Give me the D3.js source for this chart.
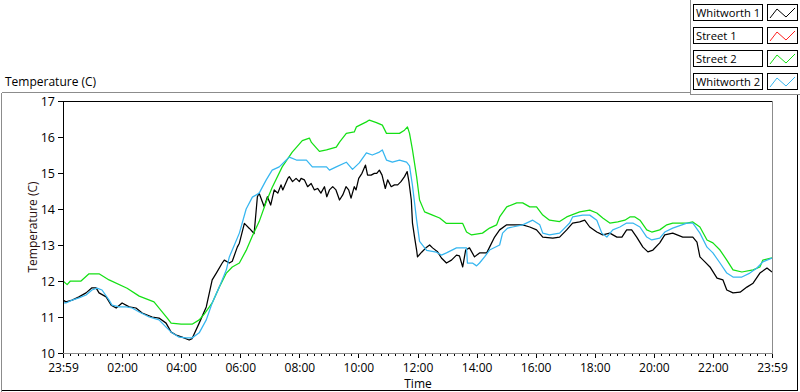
<!DOCTYPE html>
<html>
<head>
<meta charset="utf-8">
<script src="https://cdn.jsdelivr.net/npm/d3@7"></script>
<style>
  body { margin: 0; background: #fff; }
  svg { display: block; font-family: "Open Sans", sans-serif; }
</style>
</head>
<body>
<div id="chart"></div>
<script>
// series names and colours (legend order)
const seriesNames = ["Whitworth 1", "Street 1", "Street 2", "Whitworth 2"];
const seriesColors = ["#000000", "#ff2020", "#14e014", "#36b6f0"];

// x ticks: hours from the 23:59 start
const timeTicks = [0, 2, 4, 6, 8, 10, 12, 14, 16, 18, 20, 22, 24];
const timeLabels = ["23:59", "02:00", "04:00", "06:00", "08:00", "10:00", "12:00",
                    "14:00", "16:00", "18:00", "20:00", "22:00", "23:59"];
const tempTicks = [10, 11, 12, 13, 14, 15, 16, 17];

// Whitworth 1 (black)
const w1Time = [0, 0.10, 0.31, 0.54, 0.78, 0.98, 1.12, 1.22, 1.46, 1.63, 1.80, 2.00, 2.24, 2.47, 2.68,
  3.02, 3.25, 3.49, 3.66, 3.83, 4.03, 4.27, 4.37, 4.61, 4.85, 5.05, 5.19, 5.39, 5.46, 5.63, 5.73, 5.90,
  5.97, 6.14, 6.31, 6.47, 6.58, 6.64, 6.81, 6.92, 7.03, 7.15, 7.27, 7.38, 7.44, 7.61, 7.66, 7.77, 7.89,
  8.00, 8.06, 8.17, 8.28, 8.40, 8.51, 8.62, 8.73, 8.85, 8.93, 9.02, 9.13, 9.24, 9.36, 9.47, 9.58, 9.67,
  9.75, 9.86, 9.92, 10.01, 10.12, 10.24, 10.31, 10.43, 10.54, 10.62, 10.71, 10.80, 10.91, 10.99, 11.11,
  11.22, 11.33, 11.44, 11.56, 11.65, 11.71, 11.79, 11.83, 11.90, 11.97, 12.00, 12.14, 12.31, 12.41,
  12.51, 12.68, 12.81, 12.98, 13.15, 13.32, 13.42, 13.53, 13.63, 13.76, 13.93, 14.10, 14.34, 14.44,
  14.61, 14.78, 15.02, 15.22, 15.56, 15.80, 16.03, 16.24, 16.58, 16.81, 17.05, 17.25, 17.49, 17.66,
  17.83, 18.07, 18.27, 18.51, 18.75, 18.92, 19.08, 19.25, 19.42, 19.63, 19.80, 19.97, 20.20, 20.37,
  20.64, 20.98, 21.32, 21.46, 21.56, 21.73, 21.90, 22.14, 22.34, 22.47, 22.68, 22.92, 23.15, 23.36,
  23.59, 23.83, 24.00];
const w1Temp = [11.47, 11.42, 11.47, 11.56, 11.67, 11.81, 11.81, 11.67, 11.56, 11.33, 11.25, 11.39, 11.28, 11.25, 11.11,
  11.00, 10.97, 10.83, 10.58, 10.50, 10.44, 10.36, 10.40, 10.83, 11.28, 12.03, 12.22, 12.50, 12.58, 12.50, 12.55, 12.94,
  13.05, 13.60, 13.46, 13.32, 14.34, 14.44, 14.06, 14.34, 14.11, 14.53, 14.44, 14.67, 14.53, 14.85, 14.90, 14.76, 14.85,
  14.76, 14.85, 14.81, 14.62, 14.71, 14.53, 14.57, 14.44, 14.62, 14.34, 14.53, 14.62, 14.53, 14.25, 14.39, 14.62, 14.53,
  14.30, 14.62, 14.53, 14.85, 14.99, 15.22, 14.94, 14.94, 14.99, 14.99, 15.08, 14.94, 14.57, 14.81, 14.62,
  14.67, 14.67, 14.76, 14.90, 15.04, 14.76, 14.25, 13.61, 13.22, 12.86, 12.67, 12.80, 12.94, 13.00,
  12.92, 12.81, 12.64, 12.50, 12.58, 12.72, 12.70, 12.39, 12.86, 12.92, 12.67, 12.78, 12.78, 12.94,
  13.22, 13.42, 13.56, 13.56, 13.56, 13.50, 13.42, 13.22, 13.19, 13.22, 13.42, 13.61, 13.64, 13.69,
  13.50, 13.36, 13.28, 13.33, 13.22, 13.22, 13.42, 13.42, 13.22, 12.94, 12.81, 12.86, 13.06, 13.28,
  13.33, 13.22, 13.22, 13.08, 12.67, 12.53, 12.39, 12.08, 12.03, 11.75, 11.67, 11.69, 11.83, 11.94,
  12.22, 12.36, 12.25];

// Street 1 (red) - no visible data
const s1Time = [];
const s1Temp = [];

// Street 2 (green)
const s2Time = [0, 0.14, 0.25, 0.61, 0.88, 1.22, 1.56, 2.17, 2.58, 3.08, 3.53, 3.66, 4.00, 4.37, 4.61, 4.78,
  5.05, 5.29, 5.53, 5.73, 5.97, 6.20, 6.41, 6.64, 6.88, 7.08, 7.42, 7.76, 8.10, 8.34, 8.41, 8.68, 8.92,
  9.25, 9.36, 9.59, 9.86, 9.93, 10.27, 10.37, 10.61, 10.81, 10.95, 11.39, 11.56, 11.66, 11.73, 11.83,
  11.97, 12.07, 12.24, 12.51, 12.75, 12.98, 13.53, 13.66, 13.83, 14.20, 14.44, 14.68, 14.78, 15.02,
  15.36, 15.56, 15.80, 16.03, 16.24, 16.47, 16.81, 17.05, 17.49, 17.83, 18.07, 18.27, 18.51, 18.78,
  19.02, 19.19, 19.36, 19.53, 19.76, 19.93, 20.20, 20.44, 20.64, 21.12, 21.32, 21.56, 21.80, 22.00,
  22.24, 22.47, 22.68, 22.98, 23.36, 23.59, 23.69, 24.00];
const s2Temp = [12.00, 11.90, 12.00, 12.00, 12.20, 12.20, 12.03, 11.80, 11.58, 11.42, 10.97, 10.83, 10.80, 10.80, 10.92, 11.08,
  11.39, 11.83, 12.22, 12.39, 12.50, 12.85, 13.25, 13.65, 14.20, 14.60, 15.17, 15.58, 15.90, 15.97, 15.85, 15.60, 15.64,
  15.72, 15.86, 16.10, 16.14, 16.28, 16.42, 16.47, 16.40, 16.33, 16.10, 16.10, 16.19, 16.28, 16.10, 15.64,
  14.90, 14.25, 13.92, 13.83, 13.75, 13.60, 13.60, 13.36, 13.28, 13.33, 13.47, 13.56, 13.78, 14.06,
  14.17, 14.17, 14.06, 14.06, 13.83, 13.69, 13.65, 13.78, 13.92, 13.97, 13.89, 13.75, 13.61, 13.64,
  13.69, 13.78, 13.78, 13.69, 13.42, 13.36, 13.42, 13.56, 13.61, 13.61, 13.64, 13.50, 13.14, 13.06,
  12.86, 12.58, 12.31, 12.25, 12.31, 12.39, 12.58, 12.64];

// Whitworth 2 (light blue)
const w2Time = [0, 0.10, 0.31, 0.54, 0.78, 0.98, 1.15, 1.32, 1.56, 1.66, 1.90, 2.14, 2.34, 2.58, 2.92,
  3.25, 3.49, 3.69, 3.93, 4.17, 4.37, 4.61, 4.85, 5.05, 5.29, 5.53, 5.63, 5.73, 5.97, 6.20, 6.41, 6.64,
  6.88, 7.08, 7.32, 7.56, 7.66, 7.90, 8.24, 8.44, 8.92, 9.02, 9.25, 9.59, 9.80, 10.03, 10.27, 10.47,
  10.71, 10.81, 10.95, 11.15, 11.39, 11.63, 11.73, 11.83, 11.97, 12.07, 12.31, 12.64, 12.81, 12.98,
  13.32, 13.66, 13.69, 13.86, 14.00, 14.10, 14.27, 14.44, 14.78, 14.88, 15.05, 15.22, 15.56, 15.90,
  16.14, 16.24, 16.47, 16.81, 16.92, 17.15, 17.25, 17.59, 17.83, 18.07, 18.24, 18.41, 18.61, 18.85,
  19.08, 19.29, 19.53, 19.76, 19.93, 20.20, 20.37, 20.64, 21.12, 21.32, 21.56, 21.80, 22.00, 22.24,
  22.47, 22.68, 22.98, 23.25, 23.49, 23.69, 24.00];
const w2Temp = [11.39, 11.39, 11.47, 11.53, 11.61, 11.75, 11.80, 11.75, 11.47, 11.33, 11.28, 11.28, 11.25, 11.14, 11.00,
  10.92, 10.72, 10.56, 10.44, 10.42, 10.42, 10.56, 10.92, 11.39, 11.83, 12.31, 12.67, 12.86, 13.33, 14.00, 14.33, 14.44,
  14.81, 15.08, 15.17, 15.36, 15.44, 15.36, 15.36, 15.17, 15.17, 15.08, 15.17, 15.30, 15.10, 15.28, 15.56, 15.50,
  15.58, 15.64, 15.36, 15.30, 15.36, 15.30, 15.20, 14.65, 13.70, 13.10, 12.85, 12.80, 12.72, 12.78,
  12.92, 12.92, 12.50, 12.50, 12.42, 12.50, 12.67, 12.86, 13.00, 13.33, 13.47, 13.50, 13.56, 13.69,
  13.56, 13.33, 13.28, 13.33, 13.42, 13.61, 13.78, 13.83, 13.83, 13.69, 13.33, 13.22, 13.42, 13.50,
  13.61, 13.61, 13.50, 13.22, 13.14, 13.19, 13.36, 13.47, 13.61, 13.61, 13.33, 12.94, 12.78, 12.50,
  12.22, 12.11, 12.11, 12.22, 12.36, 12.53, 12.64];

const seriesData = [
  d3.zip(w1Time, w1Temp),
  d3.zip(s1Time, s1Temp),
  d3.zip(s2Time, s2Temp),
  d3.zip(w2Time, w2Temp)
];

const width = 800;
const height = 392;
const plot = {left: 63, right: 772, top: 101, bottom: 353};

const svg = d3.select("#chart").append("svg")
    .attr("width", width)
    .attr("height", height);

svg.append("rect").attr("width", width).attr("height", height).attr("fill", "#fff");

const x = d3.scaleLinear().domain([0, 24]).range([plot.left, plot.right]);
const y = d3.scaleLinear().domain([10, 17]).range([plot.bottom, plot.top]);

// outer sunken frame
const frame = svg.append("g").attr("shape-rendering", "crispEdges");
frame.append("line").attr("x1", 1.5).attr("y1", 92.5).attr("x2", 690.5).attr("y2", 92.5).attr("stroke", "#8c8c8c");
frame.append("line").attr("x1", 1.5).attr("y1", 92.5).attr("x2", 1.5).attr("y2", 392).attr("stroke", "#8c8c8c");
frame.append("line").attr("x1", 690.5).attr("y1", 0).attr("x2", 690.5).attr("y2", 94.5).attr("stroke", "#8c8c8c");
frame.append("line").attr("x1", 690.5).attr("y1", 94.5).attr("x2", 800).attr("y2", 94.5).attr("stroke", "#8c8c8c");
frame.append("line").attr("x1", 797.5).attr("y1", 94.5).attr("x2", 797.5).attr("y2", 390.5).attr("stroke", "#000");
frame.append("line").attr("x1", 1.5).attr("y1", 390.5).attr("x2", 797.5).attr("y2", 390.5).attr("stroke", "#000");

// chart title
svg.append("text")
    .attr("x", 5).attr("y", 86)
    .attr("font-size", 12).attr("fill", "#000")
    .text("Temperature (C)");

// plot area clip
svg.append("clipPath").attr("id", "clip")
  .append("rect")
    .attr("x", plot.left).attr("y", plot.top)
    .attr("width", plot.right - plot.left).attr("height", plot.bottom - plot.top);

// y axis
const yAxis = svg.append("g")
    .attr("transform", `translate(${plot.left},0)`)
    .call(d3.axisLeft(y).tickValues(tempTicks).tickSize(5).tickPadding(3).tickFormat(d3.format("d")));
yAxis.select(".domain").remove();
yAxis.selectAll("text").attr("font-size", 12.5).attr("font-family", "Open Sans").attr("fill", "#000");
yAxis.selectAll("line").attr("stroke", "#000").attr("shape-rendering", "crispEdges");

// x axis minor ticks every 15 minutes
const xMinor = svg.append("g")
    .attr("transform", `translate(0,${plot.bottom})`)
    .call(d3.axisBottom(x).tickValues(d3.range(0, 24.01, 0.25)).tickSize(3).tickFormat(""));
xMinor.select(".domain").remove();
xMinor.selectAll("line").attr("stroke", "#000").attr("shape-rendering", "crispEdges");

// x axis major ticks
const xAxis = svg.append("g")
    .attr("transform", `translate(0,${plot.bottom})`)
    .call(d3.axisBottom(x).tickValues(timeTicks).tickSize(5).tickPadding(5)
      .tickFormat((d, i) => timeLabels[i]));
xAxis.select(".domain").remove();
xAxis.selectAll("text").attr("font-size", 12).attr("font-family", "Open Sans").attr("fill", "#000");
xAxis.selectAll("line").attr("stroke", "#000").attr("shape-rendering", "crispEdges");

// axis names
svg.append("text")
    .attr("x", 418).attr("y", 388)
    .attr("text-anchor", "middle")
    .attr("font-size", 12).attr("fill", "#000")
    .text("Time");

svg.append("text")
    .attr("transform", `translate(37,${(plot.top + plot.bottom) / 2}) rotate(-90)`)
    .attr("text-anchor", "middle")
    .attr("font-size", 12).attr("fill", "#2a1010")
    .text("Temperature (C)");

// plot lines
const line = d3.line()
    .x(d => x(d[0]))
    .y(d => y(d[1]));

svg.append("g").attr("clip-path", "url(#clip)")
  .selectAll("path")
  .data(seriesData)
  .join("path")
    .attr("d", d => d.length ? line(d) : null)
    .attr("fill", "none")
    .attr("stroke", (d, i) => seriesColors[i])
    .attr("stroke-width", 1.25)
    .attr("stroke-linejoin", "round");

// plot area border (black top/left, grey right/bottom)
const border = svg.append("g").attr("shape-rendering", "crispEdges");
border.append("line").attr("x1", plot.left).attr("y1", plot.top + 0.5).attr("x2", plot.right).attr("y2", plot.top + 0.5).attr("stroke", "#000");
border.append("line").attr("x1", plot.left + 0.5).attr("y1", plot.top).attr("x2", plot.left + 0.5).attr("y2", plot.bottom).attr("stroke", "#000");
border.append("line").attr("x1", plot.right + 0.5).attr("y1", plot.top).attr("x2", plot.right + 0.5).attr("y2", plot.bottom + 0.5).attr("stroke", "#8c8c8c");
border.append("line").attr("x1", plot.left).attr("y1", plot.bottom + 0.5).attr("x2", plot.right + 0.5).attr("y2", plot.bottom + 0.5).attr("stroke", "#8c8c8c");

// legend
const legend = svg.append("g");
const rows = legend.selectAll("g")
  .data(seriesNames)
  .join("g")
    .attr("transform", (d, i) => `translate(0,${4 + i * 23})`);

rows.append("rect")
    .attr("x", 693.5).attr("y", 0.5)
    .attr("width", 69).attr("height", 16)
    .attr("fill", "#fff").attr("stroke", "#000")
    .attr("shape-rendering", "crispEdges");

rows.append("text")
    .attr("x", 696).attr("y", 12.5)
    .attr("font-size", 11.2).attr("fill", "#000")
    .text(d => d);

rows.append("rect")
    .attr("x", 767.5).attr("y", 0.5)
    .attr("width", 30).attr("height", 16)
    .attr("fill", "#fff").attr("stroke", "#000")
    .attr("shape-rendering", "crispEdges");

rows.append("path")
    .attr("d", "M770,14 L777,5 L786,13 L795,4")
    .attr("fill", "none")
    .attr("stroke", (d, i) => seriesColors[i])
    .attr("stroke-width", 1);
</script>
</body>
</html>
